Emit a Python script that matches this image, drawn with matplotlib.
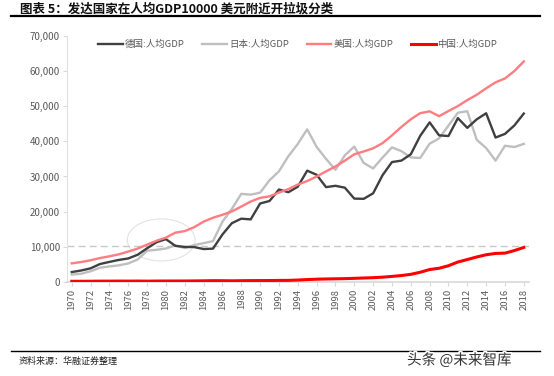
import numpy as np
import matplotlib
matplotlib.use('Agg')
import matplotlib.pyplot as plt
from matplotlib.patches import Ellipse
import matplotlib.patheffects as pe

plt.rcParams['font.family'] = ['Noto Sans CJK SC', 'DejaVu Sans']

# data (USD per capita)
years = list(range(1970, 2019))
germany = [2750, 3190, 3810, 5040, 5640, 6210, 6630, 7680, 9530, 11250,
           12140, 10210, 9910, 9870, 9310, 9430, 13460, 16680, 17970, 17760,
           22300, 23010, 26290, 25510, 27080, 31660, 30480, 26960, 27340, 26800,
           23690, 23630, 25200, 30360, 34110, 34520, 36320, 41590, 45430, 41730,
           41530, 46640, 43860, 46290, 48020, 41100, 42140, 44550, 47940]
japan = [2040, 2270, 2970, 3990, 4350, 4660, 5200, 6340, 8820, 9100,
         9460, 10360, 9580, 10430, 10980, 11580, 17110, 20750, 25050, 24810,
         25370, 28920, 31460, 35770, 39270, 43440, 38440, 35020, 31900, 36030,
         38530, 33850, 32290, 35390, 38300, 37220, 35430, 35280, 39340, 40860,
         44510, 48170, 48600, 40450, 38110, 34520, 38760, 38390, 39290]
usa = [5230, 5610, 6110, 6740, 7240, 7800, 8590, 9450, 10560, 11670,
       12570, 13980, 14430, 15540, 17120, 18240, 19070, 20040, 21420, 22860,
       23890, 24340, 25420, 26390, 27690, 28690, 29970, 31460, 32850, 34510,
       36330, 37130, 38020, 39500, 41710, 44110, 46300, 48050, 48570, 47190,
       48650, 50070, 51780, 53290, 55120, 56840, 57950, 60060, 62790]
china = [113, 119, 132, 157, 160, 178, 165, 185, 156, 183,
         195, 197, 203, 225, 250, 294, 281, 252, 284, 311,
         318, 333, 366, 377, 473, 610, 709, 782, 829, 873,
         959, 1053, 1149, 1289, 1509, 1753, 2099, 2694, 3468, 3832,
         4550, 5618, 6317, 7051, 7679, 8067, 8148, 8879, 9771]
labels = ['德国:人均GDP', '日本:人均GDP', '美国:人均GDP', '中国:人均GDP']
threshold = 10300

fig = plt.figure(figsize=(5.54, 3.76), dpi=100)
ax = fig.add_axes([0.121, 0.2508, 0.833, 0.653])

ax.plot(years, germany, color='#404040', lw=1.7, label=labels[0], solid_joinstyle='round', zorder=4)
ax.plot(years, japan, color='#BFBFBF', lw=1.7, label=labels[1], solid_joinstyle='round', zorder=3)
ax.plot(years, usa, color='#FF7C80', lw=1.7, label=labels[2], solid_joinstyle='round', zorder=5)
ax.plot(years, china, color='#FF0000', lw=2.2, label=labels[3], solid_joinstyle='round', zorder=6)

# 10000 dollar reference line and circle around germany/japan crossing
ax.axhline(threshold, color='#C8C8C8', lw=1.0, ls=(0, (5, 3)), zorder=2)
ax.add_patch(Ellipse((1979.5, 11900), 7.2, 12000, fill=False, ec='#E3E3E3', lw=0.8, zorder=1))

ax.set_xlim(1969.5, 2018.5)
ax.set_ylim(0, 70000)
ax.set_xticks(years[::2])
ax.set_xticklabels([str(y) for y in years[::2]], rotation=90, fontsize=6.8, color='#595959')
ax.set_yticks(np.arange(0, 70001, 10000))
ax.set_yticklabels(['{:,}'.format(v) for v in range(0, 70001, 10000)], fontsize=7, color='#595959')
ax.tick_params(axis='both', color='#D9D9D9', length=3, width=0.8, pad=2)

for s in ['top', 'right']:
	ax.spines[s].set_visible(False)
ax.spines['left'].set_color('#E0E0E0')
ax.spines['bottom'].set_color('#D9D9D9')
ax.spines['bottom'].set_linewidth(1.2)

leg = ax.legend(loc='upper center', bbox_to_anchor=(0.5, 1.02), ncol=4, frameon=False,
                fontsize=6.8, handlelength=2.6, handletextpad=0.2, columnspacing=1.9)
for t in leg.get_texts():
	t.set_color('#595959')

# title, rules and source
fig.text(0.036, 0.976, '图表 5：发达国家在人均GDP10000 美元附近开拉圾分类', fontsize=9,
         fontweight='bold', style='italic', va='center', ha='left', color='#111111')
fig.add_artist(plt.Line2D([0.02, 0.975], [0.958, 0.958], color='black', lw=1.6))
fig.add_artist(plt.Line2D([0.02, 0.975], [0.067, 0.067], color='black', lw=1.0))
fig.text(0.033, 0.04, '资料来源：华融证券整理', fontsize=6.5, va='center', ha='left', color='#222222')
fig.text(0.924, 0.042, '头条 @未来智库', fontsize=10.5, va='center', ha='right', color='#333333',
         path_effects=[pe.withStroke(linewidth=2.5, foreground='white')])

plt.savefig('out.png', dpi=100)
